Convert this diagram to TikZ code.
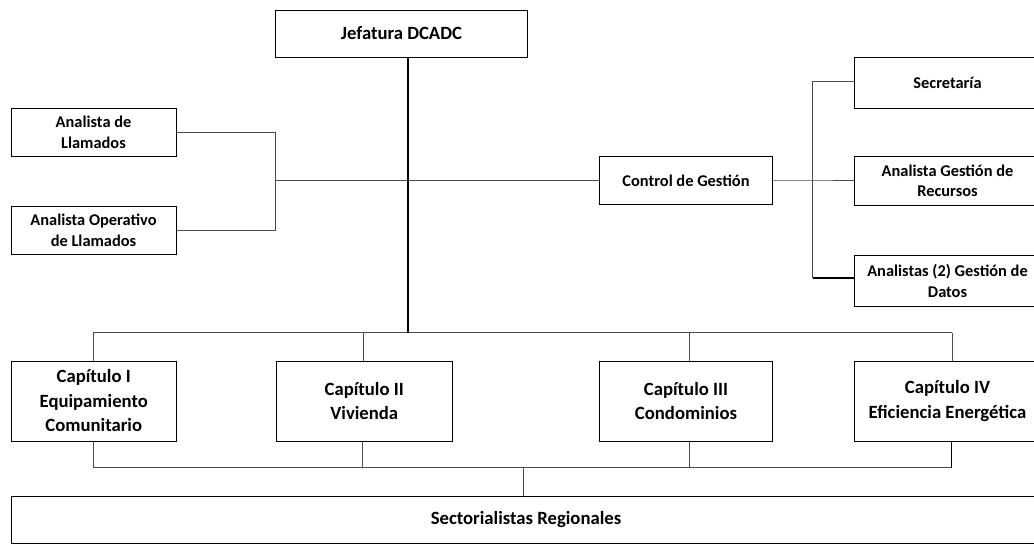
\documentclass[tikz,border=0pt]{standalone}
\usepackage{fontspec}
\setmainfont{Carlito}
\usetikzlibrary{shadows}
\begin{document}
\begin{tikzpicture}[x=1pt,y=-1pt,
  box/.style={draw=black,line width=1pt,rectangle,inner sep=0pt,anchor=north west,align=center,
    font=\bfseries\fontsize{16.4}{20.5}\selectfont,fill=white,
    drop shadow={shadow xshift=0.9pt,shadow yshift=-0.9pt,fill=black,opacity=0.85}},
  bigbox/.style={box,font=\bfseries\fontsize{18.7}{24.5}\selectfont},
  conn/.style={draw=black!70,line width=0.8pt},
  tconn/.style={draw=black,line width=1.4pt}]
\useasboundingbox (0,0) rectangle (1034,544);
\clip (0,0) rectangle (1034,544);
% nodes
\node[bigbox,minimum width=252pt,minimum height=47pt] (jef) at (275,9.5) {Jefatura DCADC};
\node[box,minimum width=165pt,minimum height=48pt] (al) at (10.5,108) {Analista de\\Llamados};
\node[box,minimum width=165pt,minimum height=48pt] (ao) at (10.5,206) {Analista Operativo\\de Llamados};
\node[box,minimum width=173pt,minimum height=48pt] (cg) at (599,156) {Control de Gestión};
\node[box,minimum width=186pt,minimum height=51pt] (sec) at (854,57) {Secretaría};
\node[box,minimum width=186pt,minimum height=49pt] (agr) at (854,156) {Analista Gestión de\\Recursos};
\node[box,minimum width=186pt,minimum height=51pt] (agd) at (854,255) {Analistas (2) Gestión de\\Datos};
\node[bigbox,minimum width=165.5pt,minimum height=80pt] (c1) at (10.5,360.5) {Capítulo I\\Equipamiento\\Comunitario};
\node[bigbox,minimum width=176.5pt,minimum height=80pt] (c2) at (275.5,360.5) {Capítulo II\\Vivienda};
\node[bigbox,minimum width=173pt,minimum height=80pt] (c3) at (599,360.5) {Capítulo III\\Condominios};
\node[bigbox,minimum width=186pt,minimum height=80pt] (c4) at (854,360.5) {Capítulo IV\\Eficiencia Energética};
\node[bigbox,minimum width=1030pt,minimum height=47pt] (sr) at (10.5,495.5) {Sectorialistas Regionales};
% junction coordinates
\coordinate (tb) at (408,332.5);
\coordinate (lj) at (275.5,180);
\coordinate (rj) at (812.5,180);
\coordinate (rt) at (812.5,81.5);
\coordinate (rb) at (812.5,278);
\coordinate (d1) at (93,332.5);
\coordinate (d2) at (363,332.5);
\coordinate (d3) at (689,332.5);
\coordinate (d4) at (952,332.5);
\coordinate (b1) at (93,467.5);
\coordinate (b2) at (362,467.5);
\coordinate (b3) at (689,467.5);
\coordinate (b4) at (951.5,467.5);
\coordinate (bs) at (523,467.5);
% connectors
\draw[conn] (al.east) -| (lj) |- (ao.east);
\draw[conn] (lj) -- (lj -| cg.west);
\draw[conn] (rj -| cg.east) -- (rj) -- (rj -| agr.west);
\draw[conn] (rt -| sec.west) -- (rt) -- (rb);
\draw[tconn] (rb) -- (rb -| agd.west);
\draw[conn] (d1) -- (d4);
\draw[conn] (d1) -- (d1 |- c1.north);
\draw[conn] (d2) -- (d2 |- c2.north);
\draw[conn] (d3) -- (d3 |- c3.north);
\draw[conn] (d4) -- (d4 |- c4.north);
\draw[conn] (b1 |- c1.south) -- (b1) -- (b4);
\draw[conn] (b2 |- c2.south) -- (b2);
\draw[conn] (b3 |- c3.south) -- (b3);
\draw[tconn] (b4 |- c4.south) -- (b4);
\draw[conn] (bs) -- (bs |- sr.north);
\draw[tconn] (tb |- jef.south) -- (tb);
\end{tikzpicture}
\end{document}
